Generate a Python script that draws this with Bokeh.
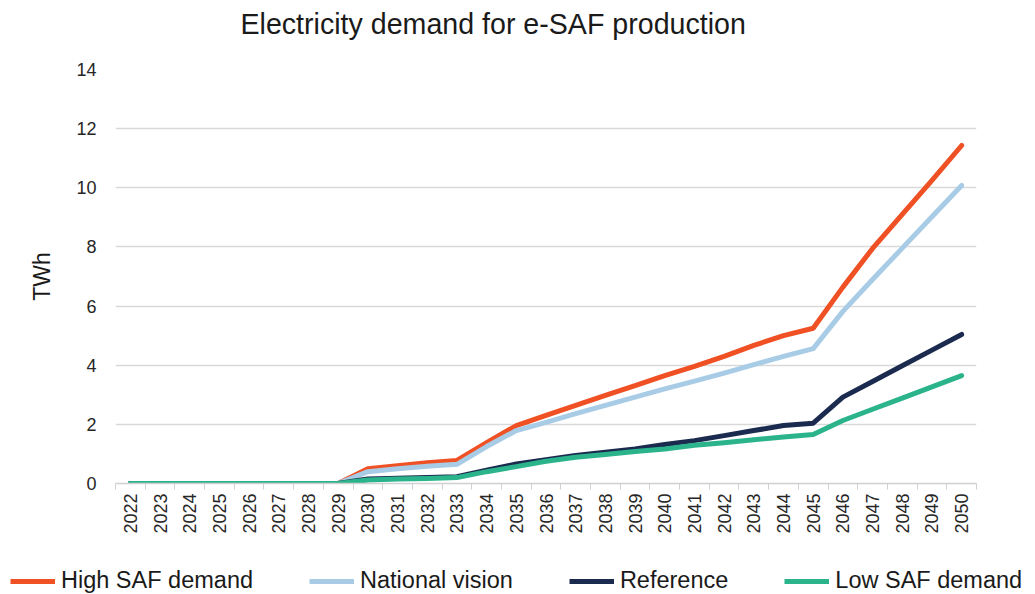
import math
from bokeh.plotting import figure
from bokeh.models import (FixedTicker, Label, Legend, LegendItem, Range1d)
from bokeh.embed import file_html
from bokeh.resources import INLINE

years = list(range(2022, 2051))
high_saf = [0, 0, 0, 0, 0, 0, 0, 0,
            0.50, 0.60, 0.70, 0.78, 1.38, 1.96, 2.30, 2.64, 2.98, 3.31, 3.65,
            3.96, 4.30, 4.67, 5.00, 5.25, 6.64, 7.95, 9.10, 10.25, 11.43]
national_vision = [0, 0, 0, 0, 0, 0, 0, 0,
                   0.40, 0.50, 0.58, 0.65, 1.25, 1.79, 2.07, 2.36, 2.64, 2.92, 3.20,
                   3.46, 3.73, 4.02, 4.30, 4.56, 5.82, 6.90, 7.96, 9.02, 10.08]
reference = [0, 0, 0, 0, 0, 0, 0, 0,
             0.15, 0.18, 0.20, 0.23, 0.45, 0.66, 0.80, 0.95, 1.06, 1.17, 1.32,
             1.45, 1.62, 1.79, 1.96, 2.04, 2.92, 3.45, 3.98, 4.51, 5.04]
low_saf = [0, 0, 0, 0, 0, 0, 0, 0,
           0.12, 0.15, 0.17, 0.20, 0.40, 0.57, 0.75, 0.89, 0.98, 1.08, 1.17,
           1.29, 1.38, 1.48, 1.57, 1.66, 2.13, 2.51, 2.89, 3.27, 3.65]

series_names = ["High SAF demand", "National vision", "Reference", "Low SAF demand"]
series_values = [high_saf, national_vision, reference, low_saf]
series_colors = ["#EF5024", "#A9CCE6", "#1B2A4F", "#2BB48B"]
y_ticks = [0, 2, 4, 6, 8, 10, 12, 14]
title_text = "Electricity demand for e-SAF production"

FONT = "Liberation Sans"


def strip(height):
    f = figure(width=1035, height=height, output_backend="svg", toolbar_location=None,
               x_range=Range1d(0, 1), y_range=Range1d(0, 1),
               x_axis_location=None, y_axis_location=None,
               min_border_left=0, min_border_right=0, min_border_top=0,
               min_border_bottom=0)
    f.grid.visible = False
    f.outline_line_color = None
    f.border_fill_color = "white"
    f.background_fill_color = "white"
    return f


# title strip
tt = strip(46)
tt.add_layout(Label(x=240, y=23, x_units="screen", y_units="screen",
                    text=title_text, text_font=FONT, text_font_size="28.6px",
                    text_color="#1a1a1a", text_align="left",
                    text_baseline="middle"))

# main chart
p = figure(width=1035, height=504, output_backend="svg", toolbar_location=None,
           x_range=Range1d(years[0] - 0.5, years[-1] + 0.5),
           y_range=Range1d(0, 14),
           min_border_left=115, min_border_right=59, min_border_top=23,
           min_border_bottom=67)
p.outline_line_color = None
p.background_fill_color = "white"
p.border_fill_color = "white"

p.xaxis.ticker = FixedTicker(ticks=years, minor_ticks=[y - 0.5 for y in years] + [years[-1] + 0.5])
p.xaxis.major_label_orientation = math.pi / 2
p.xaxis.major_label_text_font = FONT
p.xaxis.major_label_text_font_size = "18px"
p.xaxis.major_label_text_color = "#262626"
p.xaxis.major_tick_out = 0
p.xaxis.major_tick_in = 0
p.xaxis.minor_tick_out = 6
p.xaxis.minor_tick_in = 0
p.xaxis.minor_tick_line_color = "#d0d0d0"
p.xaxis.axis_line_color = "#d0d0d0"
p.xaxis.axis_line_width = 1.5
p.xaxis.major_label_standoff = 4

p.yaxis.ticker = FixedTicker(ticks=y_ticks)
p.yaxis.axis_line_color = None
p.yaxis.major_tick_line_color = None
p.yaxis.minor_tick_line_color = None
p.yaxis.major_label_text_font = FONT
p.yaxis.major_label_text_font_size = "18px"
p.yaxis.major_label_text_color = "#262626"
p.yaxis.major_label_standoff = 13
p.yaxis.axis_label = "TWh"
p.yaxis.axis_label_text_font = FONT
p.yaxis.axis_label_text_font_size = "23px"
p.yaxis.axis_label_text_font_style = "normal"
p.yaxis.axis_label_text_color = "#1a1a1a"
p.yaxis.axis_label_standoff = 18

p.xgrid.visible = False
p.ygrid.grid_line_color = "#d9d9d9"
p.ygrid.grid_line_width = 1.5

for name, vals, col in zip(series_names, series_values, series_colors):
    p.line(years, vals, line_color=col, line_width=5,
           line_join="round", line_cap="round")

# legend strip below the chart
lg = strip(44)
items = []
for name, vals, col in zip(series_names, series_values, series_colors):
    # same series, lying outside this strip's ranges: only the legend key shows
    r = lg.line(years, vals, line_color=col, line_width=5)
    items.append(LegendItem(label=name, renderers=[r]))

legend = Legend(items=items, orientation="horizontal", location=(10, 0),
                label_text_font=FONT, label_text_font_size="23.5px",
                label_text_color="#1a1a1a", glyph_width=45, glyph_height=20,
                label_standoff=6, spacing=56, padding=0, margin=0,
                border_line_alpha=0, background_fill_alpha=0)
lg.add_layout(legend, "center")

open("out.html", "w").write(file_html([tt, p, lg], INLINE))
